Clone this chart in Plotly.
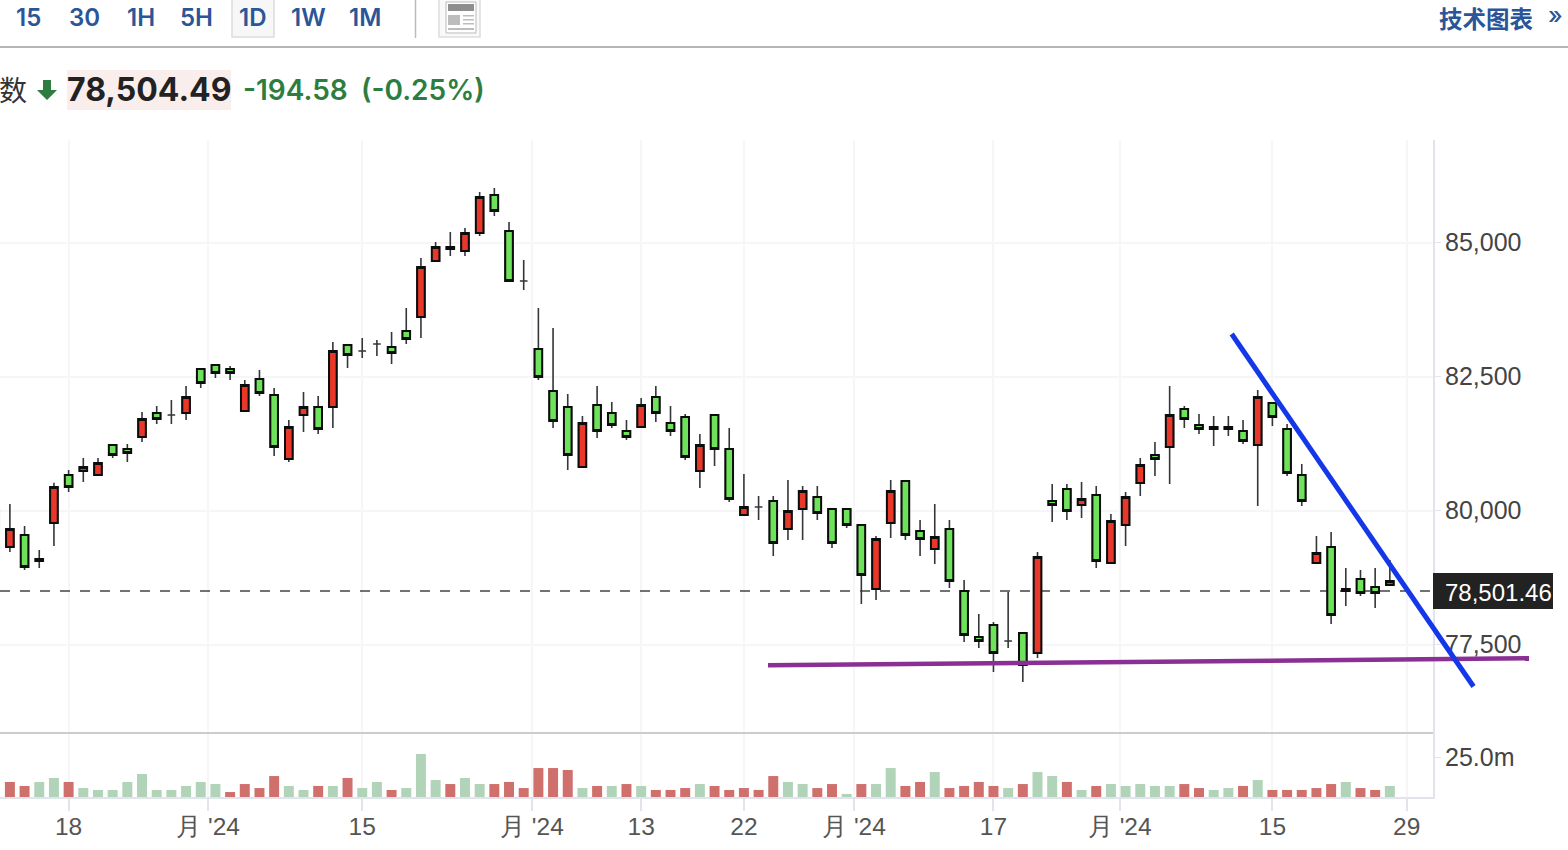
import plotly.graph_objects as go

W, H = 1568, 850

day_index = list(range(-1, 95))
opens = [79700, 79322, 79546, 79098, 79770, 80665, 80740, 80665, 81225, 81151, 81374, 81822, 81785, 81822, 82643, 82718, 82643, 81859, 82456, 82158, 80964, 81785, 81934, 81934, 83091, 82979, 83110, 83054, 83352, 83613, 84658, 84919, 84845, 85180, 85889, 85218, 84285, 83016, 82233, 81934, 80815, 81971, 81822, 81486, 81561, 82121, 81636, 81748, 80740, 81785, 81151, 79919, 80068, 80180, 79658, 80031, 80255, 80031, 80031, 79733, 78539, 79770, 80553, 79621, 79285, 79658, 78501, 77643, 77867, 77568, 77718, 77344, 80180, 80404, 80106, 80292, 79024, 79733, 80516, 81039, 81188, 81897, 81598, 81561, 81561, 81486, 81225, 82009, 81524, 80665, 79024, 79322, 78539, 78725, 78576, 78613]
highs = [80100, 80124, 79714, 79266, 80522, 80759, 80983, 80983, 81231, 81244, 81841, 81953, 82065, 82326, 82649, 82724, 82699, 82438, 82624, 82289, 81692, 82214, 82139, 83147, 83110, 83221, 83184, 83333, 83781, 84714, 85013, 85199, 85274, 85945, 86020, 85386, 84677, 83781, 83408, 82177, 81766, 82326, 82027, 81692, 82102, 82326, 81953, 81804, 81430, 81785, 81542, 80684, 80274, 80274, 80572, 80460, 80460, 80037, 80037, 79739, 79527, 80572, 80560, 79826, 80124, 79826, 78706, 78072, 77923, 78483, 77718, 79229, 80498, 80498, 80535, 80460, 79938, 80348, 80983, 81281, 82326, 81953, 81804, 81766, 81766, 81692, 82251, 82027, 81617, 80871, 79527, 79602, 78930, 78893, 78930, 79080]
lows = [79650, 79229, 78893, 78930, 79341, 80348, 80535, 80665, 80983, 80908, 81281, 81617, 81617, 81692, 82289, 82475, 82438, 81859, 82139, 81020, 80908, 81468, 81430, 81542, 82662, 82848, 82886, 82736, 83110, 83221, 84658, 84751, 84751, 85124, 85498, 84285, 84117, 82438, 81542, 80759, 80815, 81356, 81542, 81318, 81561, 81654, 81393, 80945, 80423, 80833, 80162, 79919, 79826, 79154, 79453, 79453, 79826, 79303, 79677, 78259, 78333, 79490, 79453, 79154, 79005, 78557, 77550, 77438, 76990, 77438, 76803, 77251, 79789, 79826, 79863, 78930, 79024, 79341, 80274, 80647, 80498, 81542, 81430, 81206, 81393, 81244, 80087, 81580, 80647, 80087, 79024, 77886, 78221, 78408, 78184, 78613]
closes = [80012, 79658, 78949, 79061, 80442, 80442, 80815, 80889, 81039, 81076, 81710, 81710, 81785, 82121, 82382, 82568, 82568, 82345, 82195, 81188, 81561, 81934, 81524, 82979, 82904, 82979, 83110, 82942, 83203, 84546, 84919, 84882, 85180, 85852, 85591, 84285, 84285, 82494, 81673, 81039, 81636, 81486, 81598, 81374, 81971, 81822, 81486, 81001, 81225, 81151, 80218, 80068, 80068, 79397, 79994, 80367, 79956, 79397, 79733, 78800, 79471, 80367, 79546, 79471, 79509, 78688, 77680, 77568, 77344, 77568, 77121, 79136, 80106, 79994, 80218, 79061, 79807, 80255, 80852, 80964, 81785, 81710, 81524, 81524, 81524, 81300, 82121, 81748, 80703, 80180, 79210, 78053, 78501, 78464, 78464, 78688]

volume_index = list(range(0, 95))
volumes_m = [9.4, 6.9, 9.4, 11.9, 9.4, 5.6, 4.4, 4.4, 9.4, 14.4, 4.4, 4.4, 6.9, 9.4, 8.1, 3.1, 8.1, 5.6, 13.1, 6.9, 4.4, 6.9, 6.9, 11.9, 5.6, 9.4, 4.4, 5.6, 26.9, 10.6, 8.1, 11.9, 8.1, 8.1, 9.4, 5.6, 18.1, 18.1, 16.9, 5.6, 6.9, 6.9, 8.1, 6.9, 4.4, 4.4, 5.6, 8.1, 6.9, 4.4, 5.6, 4.4, 13.1, 9.4, 8.1, 5.6, 8.1, 1.9, 8.1, 8.1, 18.1, 6.9, 9.4, 15.6, 5.6, 6.9, 9.4, 6.9, 5.6, 8.1, 15.6, 13.1, 9.4, 4.4, 6.9, 8.1, 6.9, 8.1, 6.9, 6.9, 8.1, 5.6, 4.4, 5.6, 6.9, 10.6, 4.4, 4.4, 4.4, 5.6, 8.1, 9.4, 5.6, 4.4, 6.9]
volume_sides = ("RRGGRGGGGGGGGGGRRRRGGRGRGGRGGGRGGRR"
                "RRRRGRGRGRRRGRRRRRGGRRGRGGRRGRRRRGR"
                "GGRGRGGGGGRRGGRGRRRRRGRRG")

price_ticks = [77500, 80000, 82500, 85000]
price_tick_text = ["77,500", "80,000", "82,500", "85,000"]
volume_ticks = [25]
volume_tick_text = ["25.0m"]
date_ticks = [4, 13.5, 24, 35.56, 43, 50, 57.5, 67, 75.6, 86, 95.15]
date_tick_text = ["18", "月 '24", "15", "月 '24", "13", "22", "月 '24", "17", "月 '24", "15", "29"]

last_price = 78501.46
range_buttons = ["15", "30", "1H", "5H", "1D", "1W", "1M"]
index_name_tail = "数"
quote_price = "78,504.49"
quote_change = "-194.58"
quote_pct = "(-0.25%)"
link_text = "技术图表"


def px(x):
    return x / W


def py(y):
    return 1 - y / H


AXIS_RIGHT = 1433
PRICE_TOP, PRICE_BOTTOM = 140, 733
VOL_BOTTOM = 797
X_RANGE = [-0.674, 96.94]
PRICE_RANGE = [75852, 86916]
VOL_RANGE = [0, 40]

RED, GREEN = "#e9372a", "#6ee25a"
GRID = "#f6f6f8"
AXIS = "#e1e4ec"
BLUE_TXT = "#2a5699"
LBL = "Liberation Sans"

fig = go.Figure()

# wick layer: full high/low range in dark grey (also renders the open==close crosses)
fig.add_trace(go.Candlestick(
    x=day_index, open=opens, high=highs, low=lows, close=closes,
    increasing=dict(line=dict(color="#33373b", width=1.6), fillcolor="#33373b"),
    decreasing=dict(line=dict(color="#33373b", width=1.6), fillcolor="#33373b"),
    whiskerwidth=0, showlegend=False, xaxis="x", yaxis="y", hoverinfo="skip",
))

# body layer: open/close only, black outline
body = [(d, o, c) for d, o, c in zip(day_index, opens, closes) if o != c]
fig.add_trace(go.Candlestick(
    x=[b[0] for b in body],
    open=[b[1] for b in body],
    high=[max(b[1], b[2]) for b in body],
    low=[min(b[1], b[2]) for b in body],
    close=[b[2] for b in body],
    increasing=dict(line=dict(color="#0c0c0c", width=2), fillcolor=RED),
    decreasing=dict(line=dict(color="#0c0c0c", width=2), fillcolor=GREEN),
    whiskerwidth=0, showlegend=False, xaxis="x", yaxis="y",
))

fig.add_trace(go.Bar(
    x=volume_index, y=volumes_m,
    marker=dict(color=["#cf706c" if s == "R" else "#b1d4b8" for s in volume_sides], line=dict(width=0)),
    width=0.68, showlegend=False, xaxis="x2", yaxis="y2",
))

shapes = [
    # last price dashed line
    dict(type="line", xref="x", yref="y", x0=X_RANGE[0], x1=X_RANGE[1], y0=last_price, y1=last_price,
         line=dict(color="#444444", width=1.4, dash="10px,10px"), layer="between"),
    # pane separator
    dict(type="line", xref="paper", yref="paper", x0=0, x1=px(AXIS_RIGHT), y0=py(733), y1=py(733),
         line=dict(color="#cccccc", width=2)),
    # toolbar rule
    dict(type="line", xref="paper", yref="paper", x0=0, x1=1, y0=py(47), y1=py(47),
         line=dict(color="#b5b5b5", width=2)),
    # toolbar separator
    dict(type="line", xref="paper", yref="paper", x0=px(415.5), x1=px(415.5), y0=py(0), y1=py(38),
         line=dict(color="#bbbbbb", width=1.5)),
    # selected button
    dict(type="rect", xref="paper", yref="paper", x0=px(232), x1=px(274), y0=py(-4), y1=py(37),
         fillcolor="#f7f7f7", line=dict(color="#dddddd", width=1.5), layer="below"),
    # icon
    dict(type="rect", xref="paper", yref="paper", x0=px(439), x1=px(480), y0=py(-4), y1=py(37),
         fillcolor="#f9f9f9", line=dict(color="#dddddd", width=1.5), layer="below"),
    dict(type="rect", xref="paper", yref="paper", x0=px(446), x1=px(476), y0=py(2), y1=py(33),
         fillcolor="#ffffff", line=dict(color="#bbbbbb", width=1)),
    dict(type="rect", xref="paper", yref="paper", x0=px(448), x1=px(474), y0=py(4), y1=py(11),
         fillcolor="#8e8e8e", line=dict(width=0)),
    dict(type="rect", xref="paper", yref="paper", x0=px(448), x1=px(460), y0=py(15), y1=py(25),
         fillcolor="#bdbdbd", line=dict(width=0)),
    dict(type="rect", xref="paper", yref="paper", x0=px(448), x1=px(474), y0=py(28), y1=py(30),
         fillcolor="#bdbdbd", line=dict(width=0)),
    dict(type="rect", xref="paper", yref="paper", x0=px(463), x1=px(474), y0=py(15), y1=py(16.5),
         fillcolor="#bdbdbd", line=dict(width=0)),
    dict(type="rect", xref="paper", yref="paper", x0=px(463), x1=px(474), y0=py(19), y1=py(20.5),
         fillcolor="#bdbdbd", line=dict(width=0)),
    dict(type="rect", xref="paper", yref="paper", x0=px(463), x1=px(474), y0=py(23), y1=py(24.5),
         fillcolor="#bdbdbd", line=dict(width=0)),
    # quote price highlight
    dict(type="rect", xref="paper", yref="paper", x0=px(67), x1=px(231), y0=py(70), y1=py(110),
         fillcolor="#faeeec", line=dict(width=0), layer="below"),
    # down arrow
    dict(type="path", xref="paper", yref="paper",
         path=(f"M {px(43)} {py(80)} L {px(51)} {py(80)} L {px(51)} {py(90)} L {px(57)} {py(90)} "
               f"L {px(47)} {py(100)} L {px(37)} {py(90)} L {px(43)} {py(90)} Z"),
         fillcolor="#2e7d40", line=dict(width=0)),
    # last price box
    dict(type="rect", xref="paper", yref="paper", x0=px(1433), x1=px(1553), y0=py(573), y1=py(609),
         fillcolor="#222222", line=dict(width=0)),
    # hand drawn trend lines
    dict(type="line", xref="paper", yref="paper", x0=px(768), x1=px(1529), y0=py(665.3), y1=py(658.3),
         line=dict(color="#8a2f93", width=4.5)),
    dict(type="line", xref="paper", yref="paper", x0=px(1231.7), x1=px(1473.5), y0=py(334), y1=py(686.5),
         line=dict(color="#1438e8", width=5)),
]


def note(x, y, text, size, color, family="Inter", weight=400, anchor="center"):
    return dict(xref="paper", yref="paper", x=px(x), y=py(y), text=text, showarrow=False,
                xanchor=anchor, yanchor="middle",
                font=dict(size=size, color=color, family=family, weight=weight))


annotations = []
for i, label in enumerate(range_buttons):
    annotations.append(note(28.5 + 56 * i, 17, label, 24, BLUE_TXT, weight=600))
annotations += [
    note(1437, 18, link_text, 23.5, BLUE_TXT, "Noto Sans CJK SC", 700, "left"),
    note(1555, 15, "»", 24, BLUE_TXT, "Inter", 500),
    note(-3, 89, index_name_tail, 28, "#333333", "Noto Sans CJK SC", 400, "left"),
    note(149, 90, quote_price, 32, "#222222", "Inter", 700),
    note(241, 90, quote_change, 28, "#2e7d40", "Inter", 600, "left"),
    note(359, 90, quote_pct, 28, "#2e7d40", "Inter", 600, "left"),
    note(1443, 592.5, f"{last_price:,.2f}", 24, "#ffffff", LBL, 400, "left"),
]

common_x = dict(range=X_RANGE, domain=[0, px(AXIS_RIGHT)], tickmode="array", tickvals=date_ticks,
                showgrid=True, gridcolor=GRID, gridwidth=1.5, zeroline=False,
                rangeslider=dict(visible=False))

fig.update_layout(
    width=W, height=H, margin=dict(l=0, r=0, t=0, b=0), paper_bgcolor="white", plot_bgcolor="white",
    showlegend=False, boxgap=0.48, boxgroupgap=0, shapes=shapes, annotations=annotations,
    font=dict(family=LBL),
    xaxis=dict(**common_x, anchor="y", showticklabels=False, ticks=""),
    xaxis2=dict(**common_x, anchor="y2", ticktext=date_tick_text, ticks="outside", ticklen=12,
                tickcolor=AXIS, tickwidth=1.5, showline=True, linecolor=AXIS, linewidth=2,
                ticklabelstandoff=-5,
                tickfont=dict(size=24.5, color="#555555", family=LBL)),
    yaxis=dict(domain=[py(PRICE_BOTTOM), py(PRICE_TOP)], range=PRICE_RANGE, side="right", anchor="x",
               tickmode="array", tickvals=price_ticks, ticktext=price_tick_text,
               tickfont=dict(size=25, color="#444444", family=LBL), ticks="outside", ticklen=6,
               tickcolor=AXIS, showgrid=True, gridcolor=GRID, gridwidth=1.5, zeroline=False,
               showline=True, linecolor=AXIS, linewidth=2, fixedrange=True, ticklabelstandoff=-1),
    yaxis2=dict(domain=[py(VOL_BOTTOM), py(PRICE_BOTTOM)], range=VOL_RANGE, side="right", anchor="x2",
                tickmode="array", tickvals=volume_ticks, ticktext=volume_tick_text,
                tickfont=dict(size=25, color="#444444", family=LBL), ticks="outside", ticklen=6,
                tickcolor=AXIS, showgrid=False, zeroline=False, showline=True, linecolor=AXIS, linewidth=2,
                ticklabelstandoff=-1),
)

fig.write_html("out.html", config={"displayModeBar": False},
               post_script="document.body.style.margin='0';document.body.style.overflow='hidden';")
